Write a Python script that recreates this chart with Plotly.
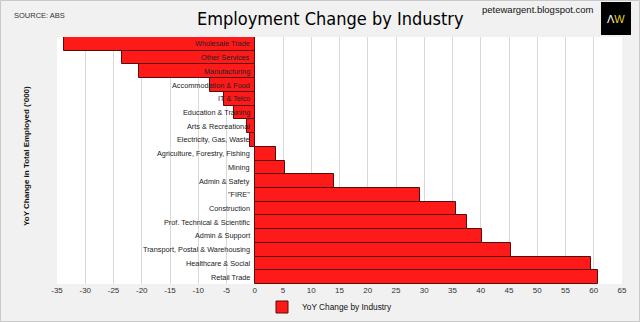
import plotly.graph_objects as go

categories = ["Wholesale Trade", "Other Services", "Manufacturing", "Accommodation & Food",
              "IT & Telco", "Education & Training", "Arts & Recreational", "Electricity, Gas, Waste",
              "Agriculture, Forestry, Fishing", "Mining", "Admin & Safety", "\"FIRE\"",
              "Construction", "Prof. Technical & Scientific", "Admin & Support",
              "Transport, Postal & Warehousing", "Healthcare & Social", "Retail Trade"]
values = [-33.7, -23.5, -20.4, -7.9, -5.5, -3.7, -1.4, -0.8,
          3.8, 5.3, 14.1, 29.3, 35.6, 37.5, 40.3, 45.3, 59.6, 60.8]
tick_vals = list(range(-35, 70, 5))
series_name = "YoY Change by Industry"

W, H = 640, 322
ml, mr, mt, mb = 57, 18, 37, 38
PW, PH = W - ml - mr, H - mt - mb


def px(x):
    return (x - ml) / PW


def py(y):
    return (H - mb - y) / PH


NARROW = "DejaVu Sans Condensed, Liberation Sans Narrow, Liberation Sans, Arial, sans-serif"
SANS = "Liberation Sans, Arial, sans-serif"

fig = go.Figure()
fig.add_trace(go.Bar(
    y=categories, x=values, orientation="h", name=series_name,
    marker=dict(color="#ff1a1a", line=dict(color="#5a0a0a", width=1)),
    showlegend=True,
))

for c in categories:
    fig.add_annotation(x=0, y=c, xref="x", yref="y", text=c, showarrow=False,
                       xanchor="right", xshift=-3,
                       font=dict(family=SANS, size=7.3, color="#222"))

fig.update_layout(
    width=W, height=H,
    margin=dict(l=ml, r=mr, t=mt, b=mb, pad=0, autoexpand=False),
    paper_bgcolor="#f1f1f1", plot_bgcolor="#ffffff",
    bargap=0,
    font=dict(family=SANS, size=8, color="#333"),
    xaxis=dict(range=[-35, 65], tickvals=tick_vals, ticktext=[str(v) for v in tick_vals],
               showgrid=True, gridcolor="#d9d9d9", gridwidth=1, zeroline=False,
               showline=False, ticks="", ticklen=0, automargin=False,
               tickfont=dict(family=SANS, size=8, color="#333")),
    yaxis=dict(autorange="reversed", showticklabels=False, showgrid=False, zeroline=False,
               ticks="", showline=False, automargin=False),
    legend=dict(orientation="h", xref="container", yref="container",
                x=262 / W, xanchor="left", y=1 - 307 / H, yanchor="middle",
                font=dict(family=SANS, size=8.3, color="#111"), bgcolor="rgba(0,0,0,0)",
                itemwidth=30),
    showlegend=True,
)

fig.add_annotation(x=px(330), y=py(18), xref="paper", yref="paper",
                   text="Employment Change by Industry", showarrow=False,
                   xanchor="center", yanchor="middle",
                   font=dict(family=NARROW, size=18, color="#000"))
fig.add_annotation(x=px(12), y=py(16), xref="paper", yref="paper", text="SOURCE: ABS",
                   showarrow=False, xanchor="left", yanchor="middle",
                   font=dict(family=SANS, size=7.5, color="#333"))
fig.add_annotation(x=px(596), y=py(10), xref="paper", yref="paper", text="petewargent.blogspot.com",
                   showarrow=False, xanchor="right", yanchor="middle",
                   font=dict(family=SANS, size=9.5, color="#111"))
fig.add_annotation(x=px(26), y=py(156), xref="paper", yref="paper",
                   text="<b>YoY Change in Total Employed ('000)</b>", showarrow=False, textangle=-90,
                   xanchor="center", yanchor="middle",
                   font=dict(family=SANS, size=8, color="#111"))

# Logo
fig.add_shape(type="rect", xref="paper", yref="paper",
              x0=px(601), x1=px(631), y0=py(35), y1=py(2),
              fillcolor="#000000", line=dict(width=0), layer="above")
fig.add_annotation(x=px(616), y=py(19), xref="paper", yref="paper",
                   text="<span style='color:#ffffff'>Λ</span><span style='color:#e8d020'>W</span>",
                   showarrow=False, xanchor="center", yanchor="middle",
                   font=dict(family=SANS, size=11))

# Frame border
fig.add_shape(type="rect", xref="paper", yref="paper", x0=px(0.5), x1=px(639.5),
              y0=py(321.5), y1=py(0.5), line=dict(width=1, color="#c8c8c8"), layer="below")

fig.write_html("out.html")
